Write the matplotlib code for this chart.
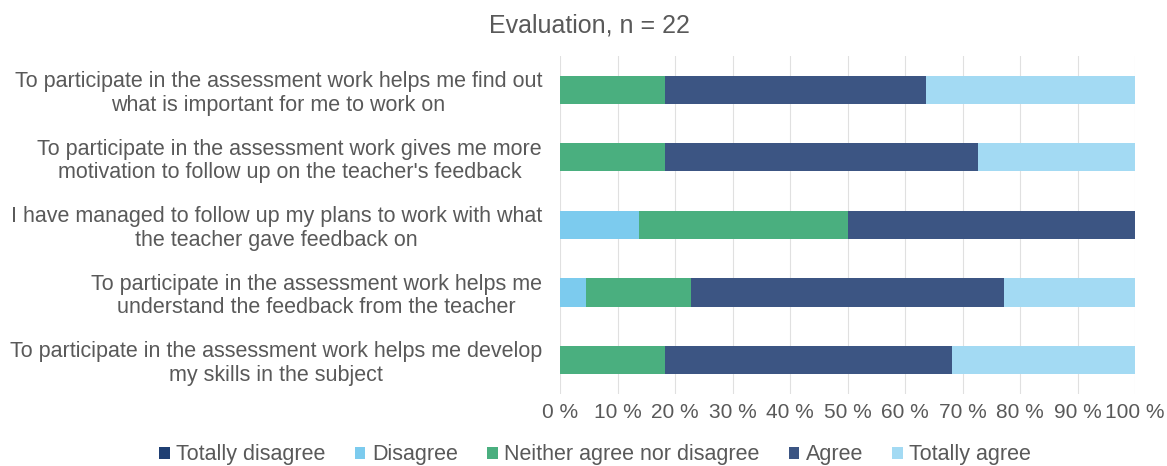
import matplotlib
matplotlib.use("Agg")
import matplotlib.pyplot as plt
import numpy as np

plt.rcParams['font.family'] = ['Liberation Sans', 'DejaVu Sans']

questions = [
    "To participate in the assessment work helps me find out\nwhat is important for me to work on",
    "To participate in the assessment work gives me more\nmotivation to follow up on the teacher's feedback",
    "I have managed to follow up my plans to work with what\nthe teacher gave feedback on",
    "To participate in the assessment work helps me\nunderstand the feedback from the teacher",
    "To participate in the assessment work helps me develop\nmy skills in the subject",
]
categories = ["Totally disagree", "Disagree", "Neither agree nor disagree", "Agree", "Totally agree"]
n = 22
totally_disagree = [0, 0, 0, 0, 0]
disagree = [0, 0, 3, 1, 0]
neither = [4, 4, 8, 4, 4]
agree = [10, 12, 11, 12, 11]
totally_agree = [8, 6, 0, 5, 7]
colors = ["#1F3F73", "#7CCBEE", "#4AAF7F", "#3C5583", "#A3DAF3"]
tick_labels = [f"{v} %" for v in range(0, 101, 10)]

fig = plt.figure(figsize=(11.67, 4.66), dpi=100)
ax = fig.add_axes([0.48, 0.155, 0.4926, 0.725])

series = [totally_disagree, disagree, neither, agree, totally_agree]
y = np.arange(len(questions))
left = np.zeros(len(questions))
for vals, c, name in zip(series, colors, categories):
    v = np.array(vals) / n * 100
    ax.barh(y, v, left=left, height=0.42, color=c, label=name, zorder=3)
    left += v

ax.set_ylim(len(questions) - 0.5, -0.5)
ax.set_xlim(0, 100)
ax.set_xticks(range(0, 101, 10))
ax.set_xticklabels(tick_labels, fontsize=15, color="#595959")
ax.set_yticks(y)
ax.set_yticklabels(questions, fontsize=15.5, color="#595959", ha="right", multialignment="center",
                   linespacing=1.15)
ax.tick_params(axis="y", length=0, pad=13)
ax.tick_params(axis="x", length=0, pad=7)
ax.grid(axis="x", color="#E0E0E0", linewidth=0.8, zorder=0)
for s in ax.spines.values():
    s.set_visible(False)

fig.text(0.505, 0.945, "Evaluation, n = 22", ha="center", va="center", fontsize=18, color="#595959")

handles, labels = ax.get_legend_handles_labels()
fig.legend(handles, labels, loc="center", bbox_to_anchor=(0.51, 0.024), ncol=5, frameon=False,
           fontsize=15.5, labelcolor="#595959", handlelength=0.5, handleheight=0.5,
           handletextpad=0.3, columnspacing=1.35)

fig.savefig("out.png", dpi=100)
